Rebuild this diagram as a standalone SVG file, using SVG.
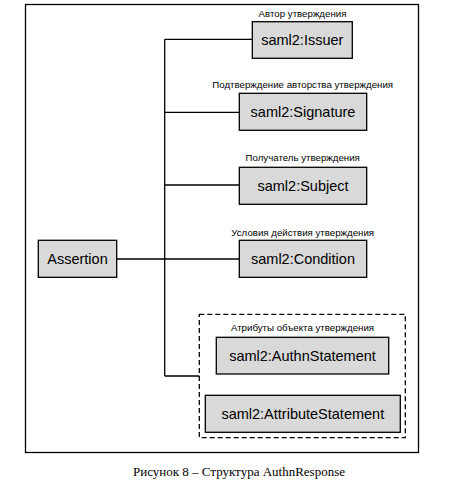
<svg xmlns="http://www.w3.org/2000/svg" width="459" height="486" viewBox="0 0 459 486">
<style>
.box{fill:#d9d9d9;stroke:#000;stroke-width:1.3}
.nt{font-family:"Liberation Sans",Arial,sans-serif;font-size:14.5px;text-anchor:middle;fill:#000}
.lb{font-family:"Liberation Sans",Arial,sans-serif;font-size:9.7px;text-anchor:middle;fill:#000}
.ln{stroke:#000;stroke-width:1.3;fill:none}
</style>
<rect x="0" y="0" width="459" height="486" fill="#fff"/>
<rect x="25.5" y="4.5" width="393" height="448" fill="none" stroke="#000" stroke-width="1.3"/>
<g id="connectors">
<path class="ln" d="M164.7 39.3V376M164.7 39.3H252.3M164.7 112.3H239.3M164.7 185H239.3M116.7 259H239.3M164.7 376H199.3"/>
</g>
<g id="issuer">
<text class="lb" x="302.5" y="17">Автор утверждения</text>
<rect class="box" x="252.3" y="21.7" width="100" height="36.6"/>
<text class="nt" x="302.3" y="45">saml2:Issuer</text>
</g>
<g id="signature">
<text class="lb" x="302.7" y="87.5">Подтверждение авторства утверждения</text>
<rect class="box" x="239.3" y="93.3" width="127.4" height="37"/>
<text class="nt" x="303" y="117">saml2:Signature</text>
</g>
<g id="subject">
<text class="lb" x="302.7" y="161">Получатель утверждения</text>
<rect class="box" x="239.3" y="167.3" width="127.4" height="37"/>
<text class="nt" x="303" y="191">saml2:Subject</text>
</g>
<g id="condition">
<text class="lb" x="302.7" y="236">Условия действия утверждения</text>
<rect class="box" x="239.3" y="240.3" width="127.4" height="37"/>
<text class="nt" x="303" y="264">saml2:Condition</text>
</g>
<g id="assertion">
<rect class="box" x="38.3" y="240.3" width="78.4" height="37"/>
<text class="nt" x="77.5" y="264">Assertion</text>
</g>
<g id="statements">
<rect x="199.3" y="314.3" width="206" height="123.4" fill="none" stroke="#000" stroke-width="1.3" stroke-dasharray="5,3"/>
<text class="lb" x="302.5" y="331">Атрибуты объекта утверждения</text>
<g id="authn">
<rect class="box" x="216.3" y="337.3" width="172.4" height="36.7"/>
<text class="nt" x="302.5" y="361">saml2:AuthnStatement</text>
</g>
<g id="attribute">
<rect class="box" x="205.3" y="395.3" width="195" height="37"/>
<text class="nt" x="302.8" y="419">saml2:AttributeStatement</text>
</g>
</g>
<text x="239" y="476" font-family="'Liberation Serif','Times New Roman',serif" font-size="13" text-anchor="middle">Рисунок 8 – Структура AuthnResponse</text>
</svg>
